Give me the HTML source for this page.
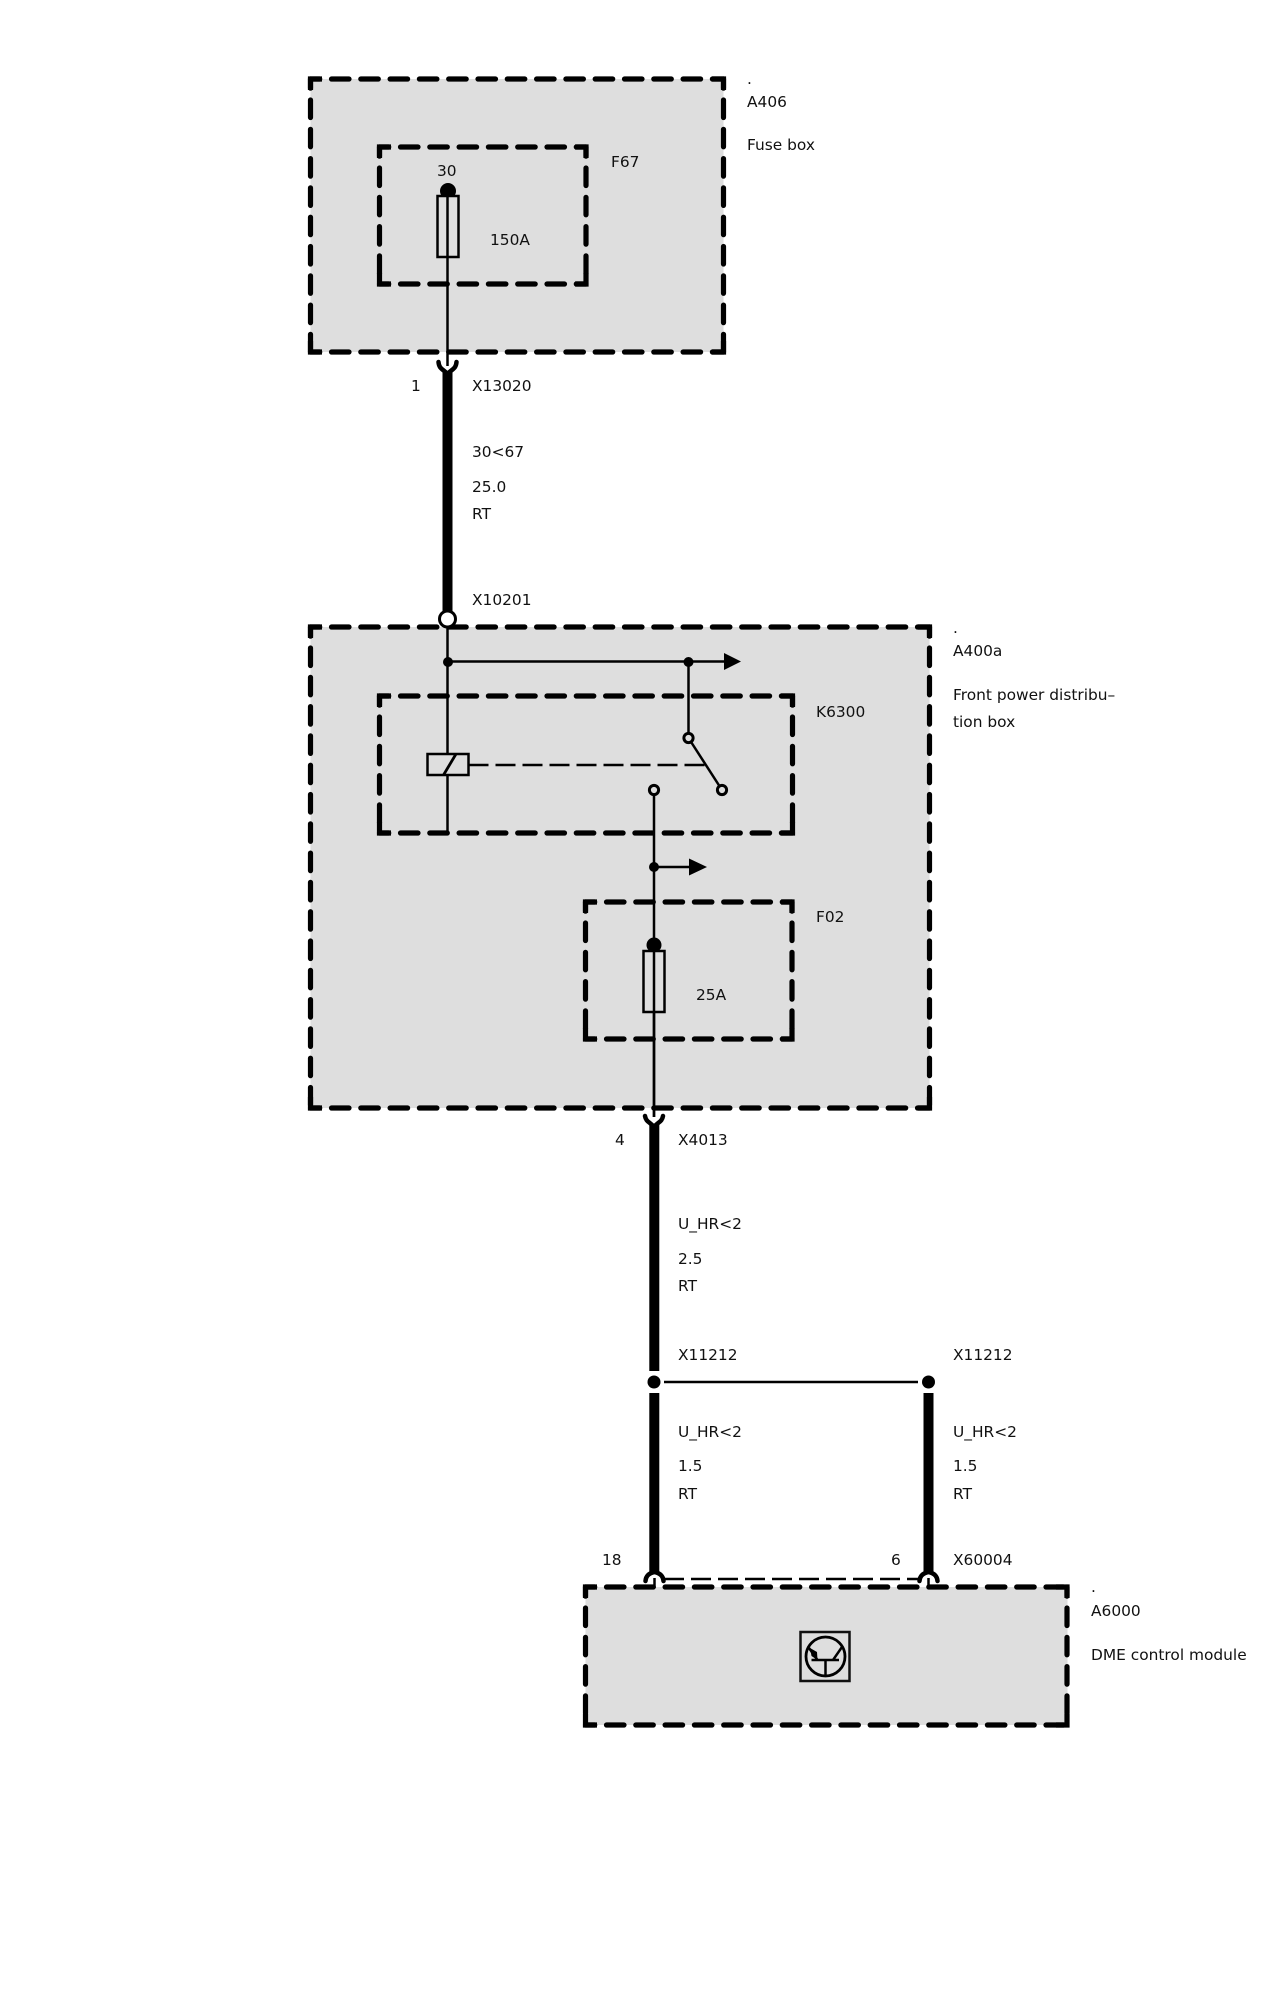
<!DOCTYPE html>
<html><head><meta charset="utf-8"><style>
html,body{margin:0;padding:0;background:#fff}
svg{display:block}
text{font-family:"DejaVu Sans","Liberation Sans",sans-serif;font-size:15.4px;fill:#111}
.b{fill:#dedede;stroke:none}
.d{fill:none;stroke:#000;stroke-width:5.2;stroke-dasharray:17.500 11.800;stroke-dashoffset:-21;stroke-linecap:round}
.c{fill:none;stroke:#000;stroke-width:5.2;stroke-linecap:butt}
.w{fill:none;stroke:#000;stroke-width:2.500}
.t{fill:none;stroke:#000;stroke-width:10}
.s{fill:none;stroke:#000;stroke-width:4.500;stroke-linecap:round}
.f{fill:#dedede;stroke:#000;stroke-width:2.500}
.o{fill:#fff;stroke:#000;stroke-width:3}
</style></head><body>
<svg width="1275" height="1998" viewBox="0 0 1275 1998" xmlns="http://www.w3.org/2000/svg">
<rect width="1275" height="1998" fill="#fff"/>

<!-- grey boxes -->
<rect class="b" x="310.500" y="79" width="413" height="273"/>
<rect class="b" x="310.500" y="627" width="619" height="481"/>
<rect class="b" x="585.500" y="1587" width="482" height="138"/>

<!-- A406 -->
<path class="d" d="M310.500 79H723.500"/><path class="d" d="M310.500 352H723.500"/><path class="d" d="M310.500 79V352"/><path class="d" d="M723.500 79V352"/>
<path class="c" d="M310.500 90V79H322"/><path class="c" d="M712 79H723.500V90"/><path class="c" d="M310.500 341V352H322"/><path class="c" d="M712 352H723.500V341"/>
<!-- F67 -->
<path class="d" d="M379.500 147H586"/><path class="d" d="M379.500 284H586"/><path class="d" d="M379.500 147V284"/><path class="d" d="M586 147V284"/>
<path class="c" d="M379.500 158V147H391"/><path class="c" d="M575 147H586V158"/><path class="c" d="M379.500 273V284H391"/><path class="c" d="M575 284H586V273"/>

<!-- A400a -->
<path class="d" d="M310.500 627H929.500"/><path class="d" d="M310.500 1108H929.500"/><path class="d" d="M310.500 627V1108"/><path class="d" d="M929.500 627V1108"/>
<path class="c" d="M310.500 638V627H322"/><path class="c" d="M918 627H929.500V638"/><path class="c" d="M310.500 1097V1108H322"/><path class="c" d="M918 1108H929.500V1097"/>
<!-- K6300 -->
<path class="d" d="M379.500 696H792.500"/><path class="d" d="M379.500 833H792.500"/><path class="d" d="M379.500 696V833"/><path class="d" d="M792.500 696V833"/>
<path class="c" d="M379.500 707V696H391"/><path class="c" d="M781 696H792.500V707"/><path class="c" d="M379.500 822V833H391"/><path class="c" d="M781 833H792.500V822"/>
<!-- F02 -->
<path class="d" d="M585.500 902H792"/><path class="d" d="M585.500 1039H792"/><path class="d" d="M585.500 902V1039"/><path class="d" d="M792 902V1039"/>
<path class="c" d="M585.500 913V902H597"/><path class="c" d="M781 902H792V913"/><path class="c" d="M585.500 1028V1039H597"/><path class="c" d="M781 1039H792V1028"/>
<!-- A6000 -->
<path class="d" d="M585.500 1587H1067"/><path class="d" d="M585.500 1725H1067"/><path class="d" d="M585.500 1587V1725"/><path class="d" d="M1067 1587V1725"/>
<path class="c" d="M585.500 1598V1587H597"/><path class="c" d="M1056 1587H1067V1598"/><path class="c" d="M585.500 1714V1725H597"/><path class="c" d="M1056 1725H1067V1714"/>

<!-- A406 fuse and feed -->
<circle cx="448" cy="191" r="8"/>
<rect class="f" x="437.500" y="196" width="21" height="61"/>
<path class="w" d="M447.500 196V366"/>
<path class="s" d="M438.500 362C439 369 443 369 447.500 374C452 369 456 369 456.500 362"/>
<path class="t" d="M447.500 372V612"/>

<!-- A400a connector -->
<circle class="o" cx="447.500" cy="619" r="8"/>
<path class="w" d="M447.500 627V833"/>
<circle cx="448" cy="662" r="5"/>
<path class="w" d="M448 661.500H725"/>
<circle cx="688.500" cy="662" r="5"/>
<path d="M724 653L741 661.500L724 670Z"/>
<path class="w" d="M688.500 662V733"/>
<path class="w" d="M688.500 738L722 790"/>
<circle class="o" cx="688.500" cy="738" r="4.600" style="fill:#dedede"/>
<circle class="o" cx="722" cy="790" r="4.600" style="fill:#dedede"/>
<!-- relay coil -->
<rect class="f" x="427.500" y="754" width="41" height="21"/>
<path class="w" d="M443.500 775L456 754" style="stroke-width:2.800"/>
<path class="w" d="M468.500 765H706" stroke-dasharray="20 7"/>
<!-- lower wire -->
<path class="w" d="M654 795V1117"/>
<circle class="o" cx="654" cy="790" r="4.600" style="fill:#dedede"/>
<circle cx="654" cy="867" r="5"/>
<path class="w" d="M654 867H690"/>
<path d="M689 858.500L707 867L689 875.500Z"/>
<!-- F02 fuse -->
<circle cx="654" cy="945" r="7.500"/>
<rect class="f" x="643.500" y="951" width="21" height="61"/>
<path class="w" d="M654 945V1117"/>
<path class="s" d="M645 1116C646 1122 650 1122 654 1127C658 1122 662 1122 663 1116"/>

<!-- lower thick wires -->
<path class="t" d="M654.300 1125V1371"/>
<circle cx="654" cy="1382" r="6.500"/>
<path class="w" d="M664 1382H918"/>
<circle cx="928.500" cy="1382" r="6.500"/>
<path class="t" d="M654.300 1393V1574"/>
<path class="t" d="M928.500 1393V1574"/>
<path class="s" d="M645.500 1581C646 1575 650 1573 654.500 1572C659 1573 663 1575 663.500 1581"/>
<path class="s" d="M919.500 1581C920 1575 924 1573 928.500 1572C933 1573 937 1575 937.500 1581"/>
<path class="w" d="M654.500 1578V1588"/><path class="w" d="M928.500 1578V1588"/>
<path class="w" d="M664 1579H920" stroke-dasharray="20 7"/>

<!-- transistor symbol -->
<rect x="800.500" y="1632" width="49" height="49" fill="#dedede" stroke="#111" stroke-width="2.500"/>
<circle cx="825.500" cy="1656.500" r="19.500" fill="none" stroke="#000" stroke-width="2.800"/>
<path class="w" d="M811.500 1660H839M825.500 1660V1677M809 1648L817.500 1660M842 1647L833 1660"/>
<path d="M810 1648L817 1652L817.500 1660L811.500 1656Z"/>

<!-- labels -->
<text x="747" y="84">.</text>
<text x="747" y="107">A406</text>
<text x="747" y="150">Fuse box</text>
<text x="611" y="167">F67</text>
<text x="437" y="176">30</text>
<text x="490" y="245">150A</text>
<text x="411" y="391">1</text>
<text x="472" y="391">X13020</text>
<text x="472" y="457">30&lt;67</text>
<text x="472" y="492">25.0</text>
<text x="472" y="519">RT</text>
<text x="472" y="605">X10201</text>
<text x="953" y="633">.</text>
<text x="953" y="656">A400a</text>
<text x="953" y="700">Front power distribu–</text>
<text x="953" y="727">tion box</text>
<text x="816" y="717">K6300</text>
<text x="816" y="922">F02</text>
<text x="696" y="1000">25A</text>
<text x="615" y="1145">4</text>
<text x="678" y="1145">X4013</text>
<text x="678" y="1229">U_HR&lt;2</text>
<text x="678" y="1264">2.5</text>
<text x="678" y="1291">RT</text>
<text x="678" y="1360">X11212</text>
<text x="953" y="1360">X11212</text>
<text x="678" y="1437">U_HR&lt;2</text>
<text x="678" y="1471">1.5</text>
<text x="678" y="1499">RT</text>
<text x="953" y="1437">U_HR&lt;2</text>
<text x="953" y="1471">1.5</text>
<text x="953" y="1499">RT</text>
<text x="602" y="1565">18</text>
<text x="891" y="1565">6</text>
<text x="953" y="1565">X60004</text>
<text x="1091" y="1592">.</text>
<text x="1091" y="1616">A6000</text>
<text x="1091" y="1660">DME control module</text>
</svg>
</body></html>
